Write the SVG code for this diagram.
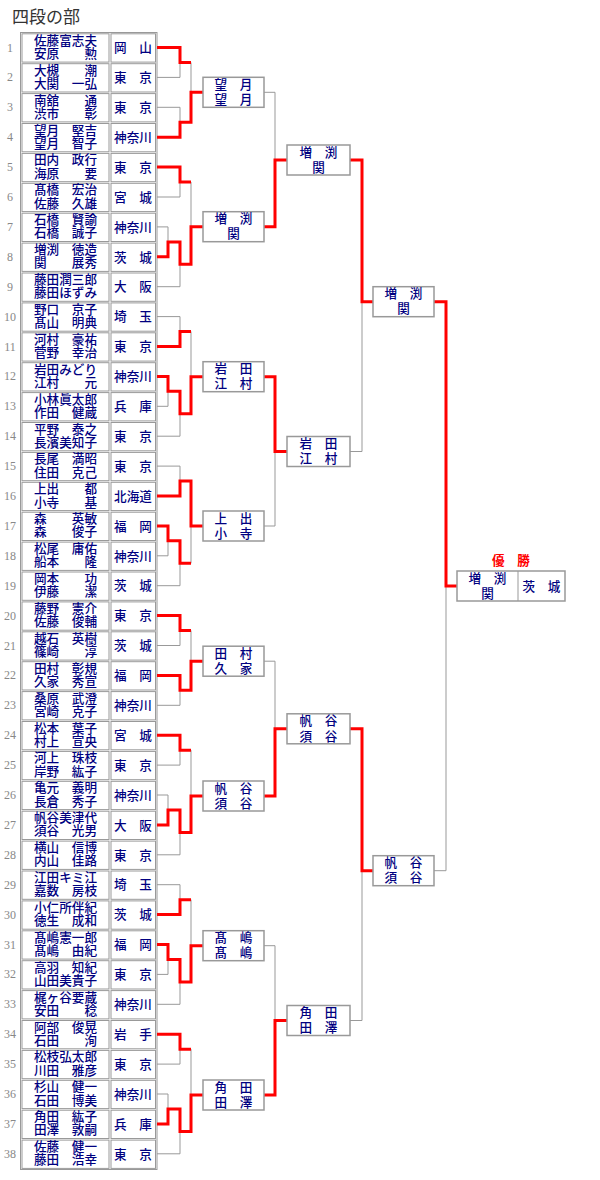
<svg xmlns="http://www.w3.org/2000/svg" width="600" height="1180" viewBox="0 0 600 1180">
<style>
.ttl{font-family:"Noto Sans CJK JP",sans-serif;font-size:17px;fill:#333}
.no{font-family:"Liberation Serif",serif;font-size:12px;fill:#888;text-anchor:middle}
.nm{font-family:"Noto Sans CJK JP",sans-serif;font-size:12.6px;fill:#000080;text-anchor:middle;font-weight:500}
.cell{fill:#fff;stroke:#999;stroke-width:1}
.bx{fill:#fff;stroke:#999;stroke-width:1.5}
.g{fill:none;stroke:#999;stroke-width:1}
.r{fill:none;stroke:#f00;stroke-width:3;stroke-linejoin:miter}
.win{font-family:"Noto Sans CJK JP",sans-serif;font-size:12.6px;fill:#f00;text-anchor:middle;font-weight:bold}
</style>
<defs>
<g id="row"><rect class="cell" x="22" y="0.8" width="87" height="28.3"/><rect class="cell" x="111" y="0.8" width="44.5" height="28.3"/></g>
</defs>
<rect width="600" height="1180" fill="#fff"/>
<text class="ttl" x="12" y="22.5">四段の部</text>
<rect class="cell" x="20.5" y="32.5" width="136.5" height="1137"/>
<g id="e1" transform="translate(0,33)"><use href="#row"/><text class="no" x="10" y="18.5">1</text><text class="nm" x="65.5" y="11.8">佐藤富志夫</text><text class="nm" x="65.5" y="25.1">安原　　勲</text><text class="nm" x="133" y="19.3">岡　山</text></g>
<g id="e2" transform="translate(0,62.9)"><use href="#row"/><text class="no" x="10" y="18.5">2</text><text class="nm" x="65.5" y="11.8">大槻　　潮</text><text class="nm" x="65.5" y="25.1">大関　一弘</text><text class="nm" x="133" y="19.3">東　京</text></g>
<g id="e3" transform="translate(0,92.8)"><use href="#row"/><text class="no" x="10" y="18.5">3</text><text class="nm" x="65.5" y="11.8">南舘　　通</text><text class="nm" x="65.5" y="25.1">渋市　　彰</text><text class="nm" x="133" y="19.3">東　京</text></g>
<g id="e4" transform="translate(0,122.7)"><use href="#row"/><text class="no" x="10" y="18.5">4</text><text class="nm" x="65.5" y="11.8">望月　堅吉</text><text class="nm" x="65.5" y="25.1">望月　智子</text><text class="nm" x="133" y="19.3">神奈川</text></g>
<g id="e5" transform="translate(0,152.6)"><use href="#row"/><text class="no" x="10" y="18.5">5</text><text class="nm" x="65.5" y="11.8">田内　政行</text><text class="nm" x="65.5" y="25.1">海原　　要</text><text class="nm" x="133" y="19.3">東　京</text></g>
<g id="e6" transform="translate(0,182.5)"><use href="#row"/><text class="no" x="10" y="18.5">6</text><text class="nm" x="65.5" y="11.8">髙橋　宏治</text><text class="nm" x="65.5" y="25.1">佐藤　久雄</text><text class="nm" x="133" y="19.3">宮　城</text></g>
<g id="e7" transform="translate(0,212.4)"><use href="#row"/><text class="no" x="10" y="18.5">7</text><text class="nm" x="65.5" y="11.8">石橋　賢諭</text><text class="nm" x="65.5" y="25.1">石橋　誠子</text><text class="nm" x="133" y="19.3">神奈川</text></g>
<g id="e8" transform="translate(0,242.3)"><use href="#row"/><text class="no" x="10" y="18.5">8</text><text class="nm" x="65.5" y="11.8">増渕　徳造</text><text class="nm" x="65.5" y="25.1">関　　展秀</text><text class="nm" x="133" y="19.3">茨　城</text></g>
<g id="e9" transform="translate(0,272.2)"><use href="#row"/><text class="no" x="10" y="18.5">9</text><text class="nm" x="65.5" y="11.8">藤田潤三郎</text><text class="nm" x="65.5" y="25.1">藤田ほずみ</text><text class="nm" x="133" y="19.3">大　阪</text></g>
<g id="e10" transform="translate(0,302.1)"><use href="#row"/><text class="no" x="10" y="18.5">10</text><text class="nm" x="65.5" y="11.8">野口　京子</text><text class="nm" x="65.5" y="25.1">髙山　明典</text><text class="nm" x="133" y="19.3">埼　玉</text></g>
<g id="e11" transform="translate(0,332)"><use href="#row"/><text class="no" x="10" y="18.5">11</text><text class="nm" x="65.5" y="11.8">河村　豪祐</text><text class="nm" x="65.5" y="25.1">菅野　幸治</text><text class="nm" x="133" y="19.3">東　京</text></g>
<g id="e12" transform="translate(0,361.9)"><use href="#row"/><text class="no" x="10" y="18.5">12</text><text class="nm" x="65.5" y="11.8">岩田みどり</text><text class="nm" x="65.5" y="25.1">江村　　元</text><text class="nm" x="133" y="19.3">神奈川</text></g>
<g id="e13" transform="translate(0,391.8)"><use href="#row"/><text class="no" x="10" y="18.5">13</text><text class="nm" x="65.5" y="11.8">小林眞太郎</text><text class="nm" x="65.5" y="25.1">作田　健蔵</text><text class="nm" x="133" y="19.3">兵　庫</text></g>
<g id="e14" transform="translate(0,421.7)"><use href="#row"/><text class="no" x="10" y="18.5">14</text><text class="nm" x="65.5" y="11.8">平野　泰之</text><text class="nm" x="65.5" y="25.1">長濱美知子</text><text class="nm" x="133" y="19.3">東　京</text></g>
<g id="e15" transform="translate(0,451.6)"><use href="#row"/><text class="no" x="10" y="18.5">15</text><text class="nm" x="65.5" y="11.8">長尾　満昭</text><text class="nm" x="65.5" y="25.1">住田　克己</text><text class="nm" x="133" y="19.3">東　京</text></g>
<g id="e16" transform="translate(0,481.5)"><use href="#row"/><text class="no" x="10" y="18.5">16</text><text class="nm" x="65.5" y="11.8">上出　　都</text><text class="nm" x="65.5" y="25.1">小寺　　基</text><text class="nm" x="133" y="19.3">北海道</text></g>
<g id="e17" transform="translate(0,511.4)"><use href="#row"/><text class="no" x="10" y="18.5">17</text><text class="nm" x="65.5" y="11.8">森　　英敏</text><text class="nm" x="65.5" y="25.1">森　　俊子</text><text class="nm" x="133" y="19.3">福　岡</text></g>
<g id="e18" transform="translate(0,541.3)"><use href="#row"/><text class="no" x="10" y="18.5">18</text><text class="nm" x="65.5" y="11.8">松尾　庸佑</text><text class="nm" x="65.5" y="25.1">船本　　隆</text><text class="nm" x="133" y="19.3">神奈川</text></g>
<g id="e19" transform="translate(0,571.2)"><use href="#row"/><text class="no" x="10" y="18.5">19</text><text class="nm" x="65.5" y="11.8">岡本　　功</text><text class="nm" x="65.5" y="25.1">伊藤　　潔</text><text class="nm" x="133" y="19.3">茨　城</text></g>
<g id="e20" transform="translate(0,601.1)"><use href="#row"/><text class="no" x="10" y="18.5">20</text><text class="nm" x="65.5" y="11.8">藤野　憲介</text><text class="nm" x="65.5" y="25.1">佐藤　俊輔</text><text class="nm" x="133" y="19.3">東　京</text></g>
<g id="e21" transform="translate(0,631)"><use href="#row"/><text class="no" x="10" y="18.5">21</text><text class="nm" x="65.5" y="11.8">越石　英樹</text><text class="nm" x="65.5" y="25.1">篠崎　　淳</text><text class="nm" x="133" y="19.3">茨　城</text></g>
<g id="e22" transform="translate(0,660.9)"><use href="#row"/><text class="no" x="10" y="18.5">22</text><text class="nm" x="65.5" y="11.8">田村　彰規</text><text class="nm" x="65.5" y="25.1">久家　秀宣</text><text class="nm" x="133" y="19.3">福　岡</text></g>
<g id="e23" transform="translate(0,690.8)"><use href="#row"/><text class="no" x="10" y="18.5">23</text><text class="nm" x="65.5" y="11.8">桑原　武澄</text><text class="nm" x="65.5" y="25.1">宮崎　克子</text><text class="nm" x="133" y="19.3">神奈川</text></g>
<g id="e24" transform="translate(0,720.7)"><use href="#row"/><text class="no" x="10" y="18.5">24</text><text class="nm" x="65.5" y="11.8">松本　葉子</text><text class="nm" x="65.5" y="25.1">村上　宣央</text><text class="nm" x="133" y="19.3">宮　城</text></g>
<g id="e25" transform="translate(0,750.6)"><use href="#row"/><text class="no" x="10" y="18.5">25</text><text class="nm" x="65.5" y="11.8">河上　珠枝</text><text class="nm" x="65.5" y="25.1">岸野　紘子</text><text class="nm" x="133" y="19.3">東　京</text></g>
<g id="e26" transform="translate(0,780.5)"><use href="#row"/><text class="no" x="10" y="18.5">26</text><text class="nm" x="65.5" y="11.8">亀元　義明</text><text class="nm" x="65.5" y="25.1">長倉　秀子</text><text class="nm" x="133" y="19.3">神奈川</text></g>
<g id="e27" transform="translate(0,810.4)"><use href="#row"/><text class="no" x="10" y="18.5">27</text><text class="nm" x="65.5" y="11.8">帆谷美津代</text><text class="nm" x="65.5" y="25.1">須谷　光男</text><text class="nm" x="133" y="19.3">大　阪</text></g>
<g id="e28" transform="translate(0,840.3)"><use href="#row"/><text class="no" x="10" y="18.5">28</text><text class="nm" x="65.5" y="11.8">横山　信博</text><text class="nm" x="65.5" y="25.1">内山　佳路</text><text class="nm" x="133" y="19.3">東　京</text></g>
<g id="e29" transform="translate(0,870.2)"><use href="#row"/><text class="no" x="10" y="18.5">29</text><text class="nm" x="65.5" y="11.8">江田キミ江</text><text class="nm" x="65.5" y="25.1">嘉数　房枝</text><text class="nm" x="133" y="19.3">埼　玉</text></g>
<g id="e30" transform="translate(0,900.1)"><use href="#row"/><text class="no" x="10" y="18.5">30</text><text class="nm" x="65.5" y="11.8">小仁所伴紀</text><text class="nm" x="65.5" y="25.1">徳生　成和</text><text class="nm" x="133" y="19.3">茨　城</text></g>
<g id="e31" transform="translate(0,930)"><use href="#row"/><text class="no" x="10" y="18.5">31</text><text class="nm" x="65.5" y="11.8">髙嶋憲一郎</text><text class="nm" x="65.5" y="25.1">髙嶋　由紀</text><text class="nm" x="133" y="19.3">福　岡</text></g>
<g id="e32" transform="translate(0,959.9)"><use href="#row"/><text class="no" x="10" y="18.5">32</text><text class="nm" x="65.5" y="11.8">高羽　知紀</text><text class="nm" x="65.5" y="25.1">山田美貴子</text><text class="nm" x="133" y="19.3">東　京</text></g>
<g id="e33" transform="translate(0,989.8)"><use href="#row"/><text class="no" x="10" y="18.5">33</text><text class="nm" x="65.5" y="11.8">梶ヶ谷要蔵</text><text class="nm" x="65.5" y="25.1">安田　　稔</text><text class="nm" x="133" y="19.3">神奈川</text></g>
<g id="e34" transform="translate(0,1019.7)"><use href="#row"/><text class="no" x="10" y="18.5">34</text><text class="nm" x="65.5" y="11.8">阿部　俊晃</text><text class="nm" x="65.5" y="25.1">石田　　洵</text><text class="nm" x="133" y="19.3">岩　手</text></g>
<g id="e35" transform="translate(0,1049.6)"><use href="#row"/><text class="no" x="10" y="18.5">35</text><text class="nm" x="65.5" y="11.8">松枝弘太郎</text><text class="nm" x="65.5" y="25.1">川田　雅彦</text><text class="nm" x="133" y="19.3">東　京</text></g>
<g id="e36" transform="translate(0,1079.5)"><use href="#row"/><text class="no" x="10" y="18.5">36</text><text class="nm" x="65.5" y="11.8">杉山　健一</text><text class="nm" x="65.5" y="25.1">石田　博美</text><text class="nm" x="133" y="19.3">神奈川</text></g>
<g id="e37" transform="translate(0,1109.4)"><use href="#row"/><text class="no" x="10" y="18.5">37</text><text class="nm" x="65.5" y="11.8">角田　紘子</text><text class="nm" x="65.5" y="25.1">田澤　敦嗣</text><text class="nm" x="133" y="19.3">兵　庫</text></g>
<g id="e38" transform="translate(0,1139.3)"><use href="#row"/><text class="no" x="10" y="18.5">38</text><text class="nm" x="65.5" y="11.8">佐藤　健一</text><text class="nm" x="65.5" y="25.1">藤田　浩幸</text><text class="nm" x="133" y="19.3">東　京</text></g>
<g id="connectors">
<path class="g" d="M157 47.5H180M157 77.4H180M157 107.3H180M157 137.2H180M157 167.1H180M157 197H180M157 226.9H168M157 256.8H168M157 286.7H180M157 316.6H180M157 346.5H180M157 376.4H168M157 406.3H168M157 436.2H180M157 466.1H180M157 496H180M157 525.9H168M157 555.8H168M157 585.7H180M157 615.6H180M157 645.5H180M157 675.4H180M157 705.3H180M157 735.2H180M157 765.1H180M157 795H168M157 824.9H168M157 854.8H180M157 884.7H180M157 914.6H180M157 944.5H168M157 974.4H168M157 1004.3H180M157 1034.2H180M157 1064.1H180M157 1094H168M157 1123.9H168M157 1153.8H180"/>
<path class="g" d="M168 226.9V256.8M168 241.9H180M168 376.4V406.3M168 391.3H180M168 525.9V555.8M168 540.8H180M168 795V824.9M168 810H180M168 944.5V974.4M168 959.5H180M168 1094V1123.9M168 1109H180"/>
<path class="g" d="M180 47.5V77.4M180 62.5H191M180 107.3V137.2M180 122.3H191M180 167.1V197M180 182H191M180 241.9V286.7M180 264.3H191M180 316.6V346.5M180 331.5H191M180 391.3V436.2M180 413.8H191M180 466.1V496M180 481H191M180 540.8V585.7M180 563.3H191M180 615.6V645.5M180 630.5H191M180 675.4V705.3M180 690.3H191M180 735.2V765.1M180 750.2H191M180 810V854.8M180 832.4H191M180 884.7V914.6M180 899.7H191M180 959.5V1004.3M180 981.9H191M180 1034.2V1064.1M180 1049.2H191M180 1109V1153.8M180 1131.4H191"/>
<path class="g" d="M191 62.5V122.3M191 92.3H203M191 182V264.3M191 226.7H203M191 331.5V413.8M191 376.7H203M191 481V563.3M191 526H203M191 630.5V690.3M191 661.2H203M191 750.2V832.4M191 796H203M191 899.7V981.9M191 945.7H203M191 1049.2V1131.4M191 1095H203"/>
<path class="g" d="M264 92.3H275V226.7H264M275 160H287M264 376.7H275V526H264M275 451.5H287M264 661.2H275V796H264M275 728.8H287M264 945.7H275V1095H264M275 1020.5H287"/>
<path class="g" d="M350 160H362V451.5H350M362 301.7H373M350 728.8H362V1020.5H350M362 870.7H373M434 301.7H446V870.7H434M446 586H457"/>
<path class="r" d="M157 47.5H180V62.5H191M157 137.2H180V122.3H191V92.3H203M157 167.1H180V182H191M157 256.8H168V241.9H180V264.3H191V226.7H203M157 346.5H180V331.5H191M157 376.4H168V391.3H180V413.8H191V376.7H203M157 496H180V481H191V526H203M157 525.9H168V540.8H180V563.3H191M157 615.6H180V630.5H191M157 675.4H180V690.3H191V661.2H203M157 735.2H180V750.2H191M157 824.9H168V810H180V832.4H191V796H203M157 914.6H180V899.7H191M157 944.5H168V959.5H180V981.9H191V945.7H203M157 1034.2H180V1049.2H191M157 1123.9H168V1109H180V1131.4H191V1095H203"/>
<path class="r" d="M264 226.7H275V160H287M264 376.7H275V451.5H287M264 796H275V728.8H287M264 1095H275V1020.5H287M350 160H362V301.7H373M350 728.8H362V870.7H373M434 301.7H446V586H457"/>
</g>
<g id="b2-1" transform="translate(203,77.3)"><rect class="bx" width="61" height="30"/><text class="nm" x="30.5" y="11.6">望　月</text><text class="nm" x="30.5" y="26.8">望　月</text></g>
<g id="b2-2" transform="translate(203,211.7)"><rect class="bx" width="61" height="30"/><text class="nm" x="30.5" y="11.6">増　渕</text><text class="nm" x="30.5" y="26.8">関</text></g>
<g id="b2-3" transform="translate(203,361.7)"><rect class="bx" width="61" height="30"/><text class="nm" x="30.5" y="11.6">岩　田</text><text class="nm" x="30.5" y="26.8">江　村</text></g>
<g id="b2-4" transform="translate(203,511)"><rect class="bx" width="61" height="30"/><text class="nm" x="30.5" y="11.6">上　出</text><text class="nm" x="30.5" y="26.8">小　寺</text></g>
<g id="b2-5" transform="translate(203,646.2)"><rect class="bx" width="61" height="30"/><text class="nm" x="30.5" y="11.6">田　村</text><text class="nm" x="30.5" y="26.8">久　家</text></g>
<g id="b2-6" transform="translate(203,781)"><rect class="bx" width="61" height="30"/><text class="nm" x="30.5" y="11.6">帆　谷</text><text class="nm" x="30.5" y="26.8">須　谷</text></g>
<g id="b2-7" transform="translate(203,930.7)"><rect class="bx" width="61" height="30"/><text class="nm" x="30.5" y="11.6">髙　嶋</text><text class="nm" x="30.5" y="26.8">髙　嶋</text></g>
<g id="b2-8" transform="translate(203,1080)"><rect class="bx" width="61" height="30"/><text class="nm" x="30.5" y="11.6">角　田</text><text class="nm" x="30.5" y="26.8">田　澤</text></g>
<g id="b3-1" transform="translate(287,145)"><rect class="bx" width="63" height="30"/><text class="nm" x="31.5" y="11.6">増　渕</text><text class="nm" x="31.5" y="26.8">関</text></g>
<g id="b3-2" transform="translate(287,436.5)"><rect class="bx" width="63" height="30"/><text class="nm" x="31.5" y="11.6">岩　田</text><text class="nm" x="31.5" y="26.8">江　村</text></g>
<g id="b3-3" transform="translate(287,713.8)"><rect class="bx" width="63" height="30"/><text class="nm" x="31.5" y="11.6">帆　谷</text><text class="nm" x="31.5" y="26.8">須　谷</text></g>
<g id="b3-4" transform="translate(287,1005.5)"><rect class="bx" width="63" height="30"/><text class="nm" x="31.5" y="11.6">角　田</text><text class="nm" x="31.5" y="26.8">田　澤</text></g>
<g id="b4-1" transform="translate(373,286.7)"><rect class="bx" width="61" height="30"/><text class="nm" x="30.5" y="11.6">増　渕</text><text class="nm" x="30.5" y="26.8">関</text></g>
<g id="b4-2" transform="translate(373,855.7)"><rect class="bx" width="61" height="30"/><text class="nm" x="30.5" y="11.6">帆　谷</text><text class="nm" x="30.5" y="26.8">須　谷</text></g>
<g id="champion" transform="translate(457,571)"><text class="win" x="54" y="-6.2">優　勝</text><rect class="bx" width="108" height="30"/><path class="g" d="M61 0V30" stroke-width="1.5"/><text class="nm" x="30.5" y="11.6">増　渕</text><text class="nm" x="30.5" y="26.8">関</text><text class="nm" x="84.5" y="19.8">茨　城</text></g>
</svg>
